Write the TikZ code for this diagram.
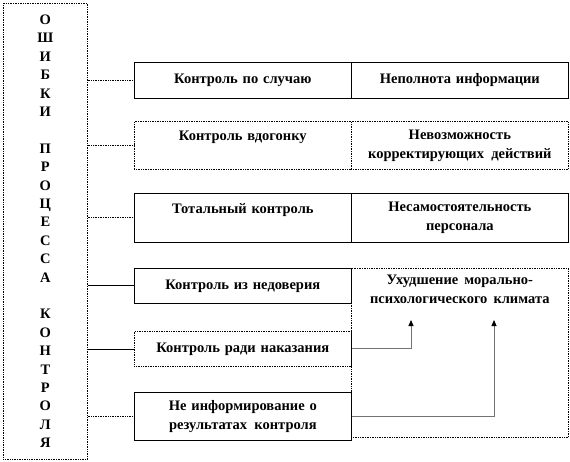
\documentclass[tikz,border=0pt]{standalone}
\usepackage{fontspec}
\setmainfont{Liberation Serif}
\usetikzlibrary{arrows.meta}
\tikzset{
  txt/.style={font=\bfseries\fontsize{14.5}{19}\selectfont},
  cell/.style={txt, draw, line width=0.7pt, anchor=north west, minimum width=217pt,
    text width=212pt, align=center, inner sep=0pt},
  dotcell/.style={cell, densely dotted},
  link/.style={line width=0.7pt, densely dotted},
  arr/.style={line width=0.9pt, -{Triangle[length=6pt,width=5pt,color=black]}}
}
\begin{document}
\begin{tikzpicture}[x=1pt,y=-1pt]
    \useasboundingbox (0,0) rectangle (570,462);
    \node [draw, line width=0.7pt, densely dotted, anchor=north west, minimum width=84pt, minimum height=456pt,
        align=center, font=\bfseries\fontsize{14.5}{18.4}\selectfont] (errors) at (3,3)
        {О\\Ш\\И\\Б\\К\\И\\\mbox{}\\П\\Р\\О\\Ц\\Е\\С\\С\\А\\\mbox{}\\К\\О\\Н\\Т\\Р\\О\\Л\\Я};
    % left column
    \node [cell, minimum height=36pt] (random) at (134,62) {Контроль по случаю};
    \node [dotcell, minimum height=48pt] (late) at (134,121) {Контроль вдогонку\\\mbox{}};
    \node [cell, minimum height=49pt] (total) at (134,193) {Тотальный контроль\\\mbox{}};
    \node [cell, minimum height=35pt] (distrust) at (134,268) {Контроль из недоверия};
    \node [dotcell, minimum height=35pt] (punish) at (134,331) {Контроль ради наказания};
    \node [cell, minimum height=48pt] (noinfo) at (134,392) {Не информирование о\\результатах\, контроля};
    % right column
    \node [cell, minimum height=36pt] (incomplete) at (351,62) {Неполнота информации};
    \node [dotcell, minimum height=48pt] (nocorrect) at (351,121) {Невозможность\\корректирующих\, действий};
    \node [cell, minimum height=49pt] (dependent) at (351,193) {Несамостоятельность\\персонала};
    \node [dotcell, minimum height=169pt] (climate) at (351,268) {};
    \node [txt, align=center, anchor=north, inner sep=0pt] (climatetext) at ([yshift=-7pt]climate.north)
        {Ухудшение\, морально-\\психологического\, климата};
    % connectors
    \draw [link] (errors.east |- random.west) -- (random.west);
    \draw [link] (errors.east |- late.west) -- (late.west);
    \draw [link] (errors.east |- total.west) -- (total.west);
    \draw [line width=0.7pt] (errors.east |- distrust.west) -- (distrust.west);
    \draw [line width=0.7pt] (errors.east |- punish.west) -- (punish.west);
    \draw [link] (errors.east |- noinfo.west) -- (noinfo.west);
    % arrows to climate
    \coordinate (up1) at (411,320);
    \coordinate (up2) at (494,320);
    \draw [arr, draw=black!55] (punish.east) -| (up1);
    \draw [arr, draw=black!55] (noinfo.east) -| (up2);
\end{tikzpicture}
\end{document}
